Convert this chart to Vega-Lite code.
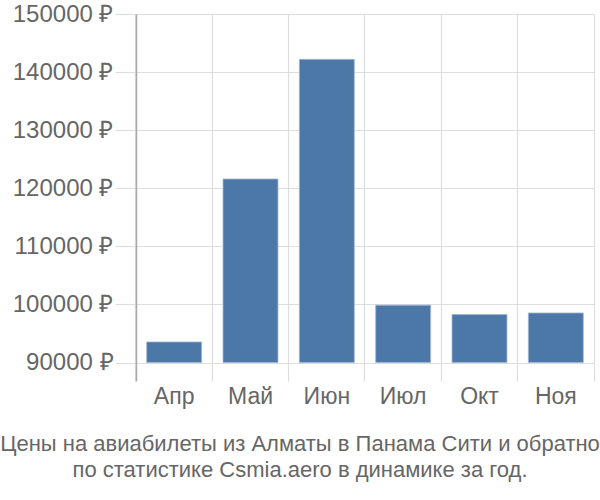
{
  "$schema": "https://vega.github.io/schema/vega-lite/v6.json",
  "width": 458,
  "height": 367,
  "autosize": "none",
  "padding": {"left": 136, "top": 14, "right": 6, "bottom": 119},
  "data": {"values": [
    {"month": "Апр", "price": 93550},
    {"month": "Май", "price": 121600},
    {"month": "Июн", "price": 142190},
    {"month": "Июл", "price": 99890},
    {"month": "Окт", "price": 98270},
    {"month": "Ноя", "price": 98540}
  ]},
  "title": {
    "text": ["Цены на авиабилеты из Алматы в Панама Сити и обратно", "по статистике Csmia.aero в динамике за год."],
    "orient": "bottom",
    "anchor": "middle",
    "frame": "group",
    "dx": -65,
    "offset": 26,
    "font": "Liberation Sans",
    "fontSize": 22,
    "fontWeight": "normal",
    "color": "#666666",
    "lineHeight": 26
  },
  "encoding": {
    "x": {
      "field": "month", "type": "nominal", "sort": null,
      "scale": {"paddingInner": 0.28, "paddingOuter": 0.14}
    },
    "y": {
      "field": "price", "type": "quantitative",
      "scale": {"domain": [86830, 150000], "nice": false, "zero": false},
      "axis": {
        "title": null, "values": [90000, 100000, 110000, 120000, 130000, 140000, 150000],
        "labelExpr": "datum.value + ' ₽'",
        "domain": true, "domainColor": "#aaaaaa", "domainWidth": 1.5,
        "ticks": true, "tickSize": 21, "tickColor": "#dddddd", "tickWidth": 1.2,
        "grid": true, "gridColor": "#dddddd", "gridWidth": 1.2,
        "labelFont": "Liberation Sans", "labelFontSize": 24, "labelColor": "#666666", "labelPadding": 2
      }
    },
    "y2": {"datum": 90000}
  },
  "layer": [
    {
      "mark": {"type": "bar", "opacity": 0},
      "encoding": {
        "x": {
          "field": "month", "type": "nominal", "sort": null,
          "axis": {
            "orient": "top", "title": null, "domain": false, "ticks": false, "labels": false,
            "values": ["Ноя"],
            "grid": true, "bandPosition": 1.1945, "gridColor": "#dddddd", "gridWidth": 1.2
          }
        }
      }
    },
    {
      "mark": {"type": "bar", "color": "#4c78a8", "stroke": "#9fb7d4", "strokeWidth": 0.8},
      "encoding": {
        "x": {
          "field": "month", "type": "nominal", "sort": null,
          "axis": {
            "orient": "bottom", "title": null, "domain": false, "ticks": false, "grid": true, "bandPosition": -0.1945,
            "gridColor": "#dddddd", "gridWidth": 1.2, "labelAngle": 0,
            "labelFont": "Liberation Sans", "labelFontSize": 23, "labelColor": "#666666", "labelPadding": 4
          }
        }
      }
    }
  ],
  "resolve": {"axis": {"x": "independent"}},
  "config": {"view": {"stroke": null}}
}
